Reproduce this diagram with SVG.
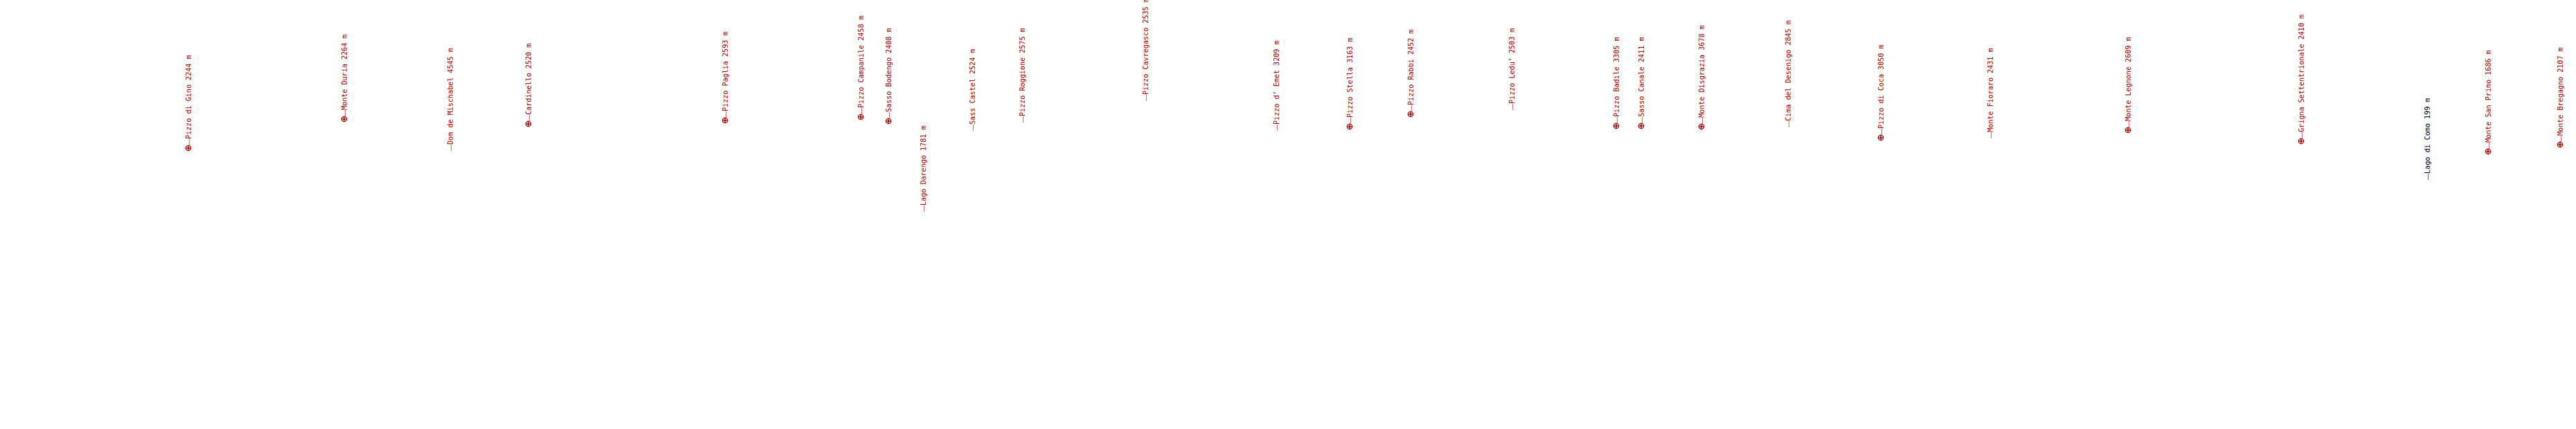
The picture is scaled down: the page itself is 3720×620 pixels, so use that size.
<svg xmlns="http://www.w3.org/2000/svg" xmlns:xlink="http://www.w3.org/1999/xlink" width="3720" height="620" viewBox="0 0 3720 620">
<style>
text{font-family:"DejaVu Sans Mono","Liberation Mono",monospace;font-size:10.1px;fill:#a00000}
text.lake{fill:#000000}
tspan.d{font-family:"Liberation Sans",sans-serif;font-size:9px}
.pk{fill:none;stroke:#a00000;stroke-width:1.2}
</style>
<defs>
<g id="peak"><circle class="pk" cx="0" cy="0" r="3.5"/><path class="pk" d="M-4.5 0H4.5M0 -4.5V4.5"/><circle cx="0" cy="0" r="1.5" fill="#a00000"/></g>
</defs>
<rect width="3720" height="620" fill="#ffffff"/>
<g id="connectors"></g>
<g id="n1"><use xlink:href="#peak" x="272" y="214"/><text transform="translate(276,210) rotate(-90)"><tspan class="d">—</tspan>Pizzo di Gino 2244 m</text></g>
<g id="n2"><use xlink:href="#peak" x="497" y="172"/><text transform="translate(501,168) rotate(-90)"><tspan class="d">—</tspan>Monte Duria 2264 m</text></g>
<g id="n3"><text transform="translate(654,218) rotate(-90)"><tspan class="d">—</tspan>Dom de Mischabel 4545 m</text></g>
<g id="n4"><use xlink:href="#peak" x="763" y="179"/><text transform="translate(767,175) rotate(-90)"><tspan class="d">—</tspan>Cardinello 2520 m</text></g>
<g id="n5"><use xlink:href="#peak" x="1047" y="174"/><text transform="translate(1051,170) rotate(-90)"><tspan class="d">—</tspan>Pizzo Paglia 2593 m</text></g>
<g id="n6"><use xlink:href="#peak" x="1243" y="169"/><text transform="translate(1247,165) rotate(-90)"><tspan class="d">—</tspan>Pizzo Campanile 2458 m</text></g>
<g id="n7"><use xlink:href="#peak" x="1283" y="175"/><text transform="translate(1287,171) rotate(-90)"><tspan class="d">—</tspan>Sasso Bodengo 2408 m</text></g>
<g id="n8"><text transform="translate(1337,306) rotate(-90)"><tspan class="d">—</tspan>Lago Darengo 1781 m</text></g>
<g id="n9"><text transform="translate(1408,189) rotate(-90)"><tspan class="d">—</tspan>Sass Castel 2524 m</text></g>
<g id="n10"><text transform="translate(1480,177) rotate(-90)"><tspan class="d">—</tspan>Pizzo Roggione 2575 m</text></g>
<g id="n11"><text transform="translate(1658,146) rotate(-90)"><tspan class="d">—</tspan>Pizzo Cavregasco 2535 m</text></g>
<g id="n12"><text transform="translate(1847,189) rotate(-90)"><tspan class="d">—</tspan>Pizzo d’ Emet 3209 m</text></g>
<g id="n13"><use xlink:href="#peak" x="1949" y="183"/><text transform="translate(1953,179) rotate(-90)"><tspan class="d">—</tspan>Pizzo Stella 3163 m</text></g>
<g id="n14"><use xlink:href="#peak" x="2037" y="165"/><text transform="translate(2041,161) rotate(-90)"><tspan class="d">—</tspan>Pizzo Rabbi 2452 m</text></g>
<g id="n15"><text transform="translate(2187,159) rotate(-90)"><tspan class="d">—</tspan>Pizzo Ledu’ 2503 m</text></g>
<g id="n16"><use xlink:href="#peak" x="2334" y="182"/><text transform="translate(2338,178) rotate(-90)"><tspan class="d">—</tspan>Pizzo Badile 3305 m</text></g>
<g id="n17"><use xlink:href="#peak" x="2370" y="182"/><text transform="translate(2374,178) rotate(-90)"><tspan class="d">—</tspan>Sasso Canale 2411 m</text></g>
<g id="n18"><use xlink:href="#peak" x="2457" y="183"/><text transform="translate(2461,179) rotate(-90)"><tspan class="d">—</tspan>Monte Disgrazia 3678 m</text></g>
<g id="n19"><text transform="translate(2586,184) rotate(-90)"><tspan class="d">—</tspan>Cima del Desenigo 2845 m</text></g>
<g id="n20"><use xlink:href="#peak" x="2716" y="199"/><text transform="translate(2720,195) rotate(-90)"><tspan class="d">—</tspan>Pizzo di Coca 3050 m</text></g>
<g id="n21"><text transform="translate(2878,200) rotate(-90)"><tspan class="d">—</tspan>Monte Fioraro 2431 m</text></g>
<g id="n22"><use xlink:href="#peak" x="3073" y="188"/><text transform="translate(3077,184) rotate(-90)"><tspan class="d">—</tspan>Monte Legnone 2609 m</text></g>
<g id="n23"><use xlink:href="#peak" x="3323" y="204"/><text transform="translate(3327,200) rotate(-90)"><tspan class="d">—</tspan>Grigna Settentrionale 2410 m</text></g>
<g id="n24"><text class="lake" transform="translate(3509,260) rotate(-90)"><tspan class="d">—</tspan>Lago di Como 199 m</text></g>
<g id="n25"><use xlink:href="#peak" x="3593" y="219"/><text transform="translate(3597,215) rotate(-90)"><tspan class="d">—</tspan>Monte San Primo 1686 m</text></g>
<g id="n26"><use xlink:href="#peak" x="3697" y="209"/><text transform="translate(3701,205) rotate(-90)"><tspan class="d">—</tspan>Monte Bregagno 2107 m</text></g>
</svg>
